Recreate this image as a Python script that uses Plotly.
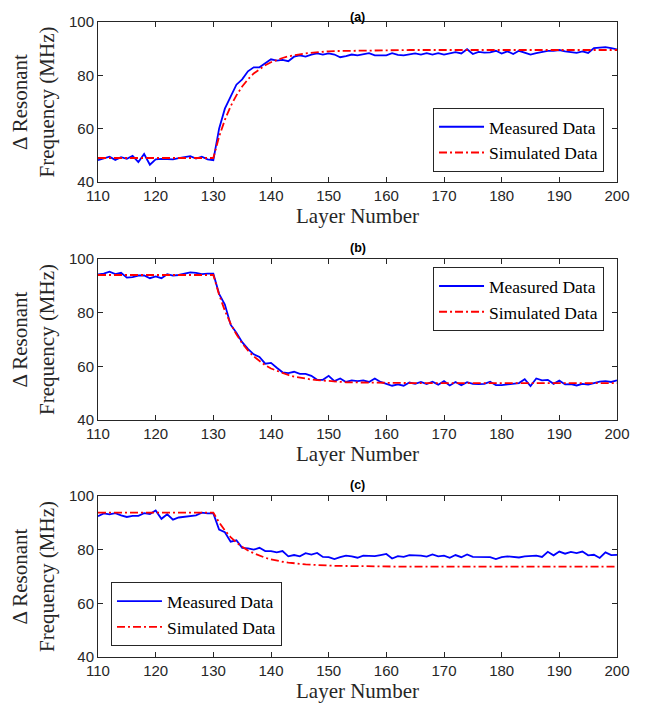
import plotly.graph_objects as go

layers = list(range(110, 201))

meas_a = [48.2, 49.0, 49.5, 48.3, 49.3, 48.7, 49.8, 47.5, 50.5, 46.5,
          48.5, 48.7, 48.7, 48.5, 49.0, 49.3, 49.7, 48.8, 49.5, 48.5,
          48.2, 60.0, 67.5, 72.0, 76.5, 78.5, 81.5, 83.0, 83.0, 84.5,
          86.0, 85.5, 85.8, 85.3, 87.0, 87.5, 87.0, 87.8, 88.2, 87.8,
          88.2, 87.8, 86.8, 87.2, 87.8, 87.5, 87.8, 88.3, 87.5, 87.5,
          87.5, 88.3, 87.7, 87.5, 87.8, 88.2, 87.8, 88.3, 87.8, 88.3,
          87.8, 88.2, 88.7, 88.2, 89.8, 88.0, 88.8, 88.5, 88.6, 89.2,
          88.2, 89.0, 88.0, 89.2, 88.6, 87.8, 88.3, 88.8, 89.2, 89.2,
          89.5, 89.0, 88.7, 88.4, 89.0, 88.4, 90.2, 90.3, 90.6, 90.2,
          89.7]
sim_a = [49.0, 49.0, 49.0, 49.0, 49.0, 49.0, 49.0, 49.0, 49.0, 49.0,
         49.0, 49.0, 49.0, 49.0, 49.0, 49.0, 49.0, 49.0, 49.0, 49.0,
         49.0, 57.0, 63.3, 68.4, 72.5, 75.8, 78.5, 80.7, 82.4, 83.8,
         84.9, 85.8, 86.5, 87.1, 87.6, 87.9, 88.25, 88.5, 88.7, 88.85,
         89.0, 89.1, 89.15, 89.2, 89.25, 89.3, 89.3, 89.35, 89.35, 89.4,
         89.4, 89.45, 89.45, 89.5, 89.5, 89.5, 89.5, 89.5, 89.5, 89.5,
         89.5, 89.5, 89.5, 89.5, 89.5, 89.5, 89.5, 89.5, 89.5, 89.5,
         89.5, 89.5, 89.5, 89.5, 89.5, 89.5, 89.5, 89.5, 89.5, 89.5,
         89.5, 89.5, 89.5, 89.5, 89.5, 89.5, 89.5, 89.5, 89.5, 89.5,
         89.5]

meas_b = [94.2, 94.5, 95.2, 94.3, 94.8, 93.0, 93.2, 93.8, 93.8, 92.8,
          93.5, 92.8, 94.3, 93.8, 94.0, 94.5, 95.0, 94.8, 94.3, 94.5,
          94.5, 87.0, 83.0, 75.5, 72.5, 69.0, 66.5, 64.5, 63.5, 61.0,
          61.3, 59.5, 57.8, 57.5, 58.0, 57.2, 57.2, 56.5, 55.0, 55.0,
          56.5, 54.5, 55.5, 54.2, 54.8, 54.5, 54.8, 54.2, 55.5, 54.2,
          53.5, 52.8, 53.3, 52.8, 54.0, 53.5, 54.2, 53.4, 54.3, 53.2,
          54.5, 52.9, 54.2, 53.0, 54.1, 53.5, 53.4, 53.5, 54.3, 53.0,
          53.0, 53.3, 53.5, 53.8, 55.2, 52.7, 55.5, 54.8, 55.0, 53.5,
          54.7, 53.3, 53.4, 52.9, 53.5, 53.2, 53.8, 54.3, 54.5, 54.2,
          54.8]
sim_b = [94.0, 94.0, 94.0, 94.0, 94.0, 94.0, 94.0, 94.0, 94.0, 94.0,
         94.0, 94.0, 94.0, 94.0, 94.0, 94.0, 94.0, 94.0, 94.0, 94.0,
         94.0, 86.7, 80.7, 75.9, 71.9, 68.6, 65.9, 63.7, 61.9, 60.4,
         59.2, 58.3, 57.4, 56.8, 56.2, 55.8, 55.4, 55.1, 54.9, 54.7,
         54.5, 54.3, 54.2, 54.1, 54.05, 54.0, 53.95, 53.9, 53.9, 53.85,
         53.85, 53.8, 53.8, 53.8, 53.8, 53.8, 53.8, 53.8, 53.8, 53.8,
         53.8, 53.8, 53.8, 53.8, 53.8, 53.8, 53.8, 53.8, 53.8, 53.8,
         53.8, 53.8, 53.8, 53.8, 53.8, 53.8, 53.8, 53.8, 53.8, 53.8,
         53.8, 53.8, 53.8, 53.8, 53.8, 53.8, 53.8, 53.8, 53.8, 53.8,
         53.8]

meas_c = [92.5, 93.5, 93.2, 93.6, 92.8, 92.2, 92.6, 92.6, 93.6, 93.3,
          94.6, 91.5, 93.2, 91.2, 92.0, 92.2, 92.5, 92.8, 93.8, 93.5,
          93.5, 87.5, 86.5, 83.0, 83.5, 80.7, 80.5, 80.0, 80.7, 79.5,
          79.5, 79.0, 79.5, 77.5, 78.0, 77.5, 78.7, 78.2, 78.8, 77.3,
          77.2, 76.5, 77.2, 77.8, 77.5, 77.0, 77.8, 77.7, 77.6, 78.0,
          78.4, 76.7, 77.6, 77.3, 78.0, 77.9, 77.8, 77.4, 78.2, 77.5,
          77.8, 77.0, 78.0, 77.2, 78.2, 77.3, 77.2, 77.1, 77.2, 76.5,
          77.2, 77.5, 77.2, 77.1, 77.5, 77.7, 77.8, 77.3, 79.2, 77.9,
          79.3, 78.5, 79.2, 78.7, 79.3, 77.9, 78.1, 76.9, 79.0, 78.0,
          78.1]
sim_c = [93.8, 93.8, 93.8, 93.8, 93.8, 93.8, 93.8, 93.8, 93.8, 93.8,
         93.8, 93.8, 93.8, 93.8, 93.8, 93.8, 93.8, 93.8, 93.8, 93.8,
         93.8, 90.2, 87.2, 84.7, 82.7, 81.1, 79.7, 78.7, 77.8, 77.0,
         76.4, 75.9, 75.5, 75.2, 74.9, 74.7, 74.5, 74.4, 74.25, 74.15,
         74.1, 74.0, 73.95, 73.9, 73.85, 73.8, 73.8, 73.8, 73.75, 73.75,
         73.75, 73.7, 73.7, 73.7, 73.7, 73.7, 73.7, 73.7, 73.7, 73.7,
         73.7, 73.7, 73.7, 73.7, 73.7, 73.7, 73.7, 73.7, 73.7, 73.7,
         73.7, 73.7, 73.7, 73.7, 73.7, 73.7, 73.7, 73.7, 73.7, 73.7,
         73.7, 73.7, 73.7, 73.7, 73.7, 73.7, 73.7, 73.7, 73.7, 73.7,
         73.7]

panel_titles = ["(a)", "(b)", "(c)"]
x_ticks = [110, 120, 130, 140, 150, 160, 170, 180, 190, 200]
y_ticks = [40, 60, 80, 100]

AX = "#262626"
SERIF = "Liberation Serif, Times New Roman, serif"
SANS = "Liberation Sans, Arial, Helvetica, sans-serif"

fig = go.Figure()

panels = [(meas_a, sim_a), (meas_b, sim_b), (meas_c, sim_c)]
domains = [[0.748, 1.0], [0.373, 0.627], [0.0, 0.2535]]
legend_names = ["legend", "legend2", "legend3"]
title_shift = [5, 11, 11]

for i, (m, s) in enumerate(panels):
    xa = "x" if i == 0 else f"x{i+1}"
    ya = "y" if i == 0 else f"y{i+1}"
    fig.add_trace(go.Scatter(x=layers, y=m, mode="lines", name="Measured Data",
                             line=dict(color="#0000FF", width=1.8),
                             xaxis=xa, yaxis=ya, legend=legend_names[i]))
    fig.add_trace(go.Scatter(x=layers, y=s, mode="lines", name="Simulated Data",
                             line=dict(color="#FF0000", width=1.8, dash="8px,3px,2px,3px"),
                             xaxis=xa, yaxis=ya, legend=legend_names[i]))

axis_common = dict(showline=True, linecolor=AX, linewidth=1, mirror="ticks",
                   ticks="inside", ticklen=5, tickcolor=AX, tickwidth=1,
                   showgrid=False, zeroline=False, automargin=False,
                   tickfont=dict(family=SANS, size=15, color=AX))

layout = dict(
    width=640, height=698,
    margin=dict(l=90, r=31, t=14, b=49),
    paper_bgcolor="white", plot_bgcolor="white",
    showlegend=True,
)

for i in range(3):
    xk = "xaxis" if i == 0 else f"xaxis{i+1}"
    yk = "yaxis" if i == 0 else f"yaxis{i+1}"
    ya = "y" if i == 0 else f"y{i+1}"
    xa = "x" if i == 0 else f"x{i+1}"
    layout[xk] = dict(axis_common, range=[110, 200], tickvals=x_ticks, anchor=ya,
                      domain=[0, 1],
                      title=dict(text="Layer Number", standoff=4,
                                 font=dict(family=SERIF, size=21, color=AX)))
    layout[yk] = dict(axis_common, range=[40, 100], tickvals=y_ticks, anchor=xa,
                      domain=domains[i],
                      title=dict(text="\u0394 Resonant<br>Frequency (MHz)", standoff=8,
                                 font=dict(family=SERIF, size=21, color=AX)))

leg_common = dict(bgcolor="white", bordercolor=AX, borderwidth=1,
                  font=dict(family=SERIF, size=17.5, color="black"),
                  tracegroupgap=0, itemwidth=45)
layout["legend"] = dict(leg_common, x=0.975, y=0.764, xanchor="right", yanchor="bottom")
layout["legend2"] = dict(leg_common, x=0.975, y=0.614, xanchor="right", yanchor="top")
layout["legend3"] = dict(leg_common, x=0.025, y=0.017, xanchor="left", yanchor="bottom")

fig.update_layout(**layout)

for i, t in enumerate(panel_titles):
    fig.add_annotation(text="<b>" + t + "</b>", x=0.5, y=domains[i][1],
                       xref="paper", yref="paper", xanchor="center", yanchor="middle",
                       yshift=title_shift[i], showarrow=False,
                       font=dict(family=SANS, size=12.5, color="black"))

fig.write_html("out.html")
